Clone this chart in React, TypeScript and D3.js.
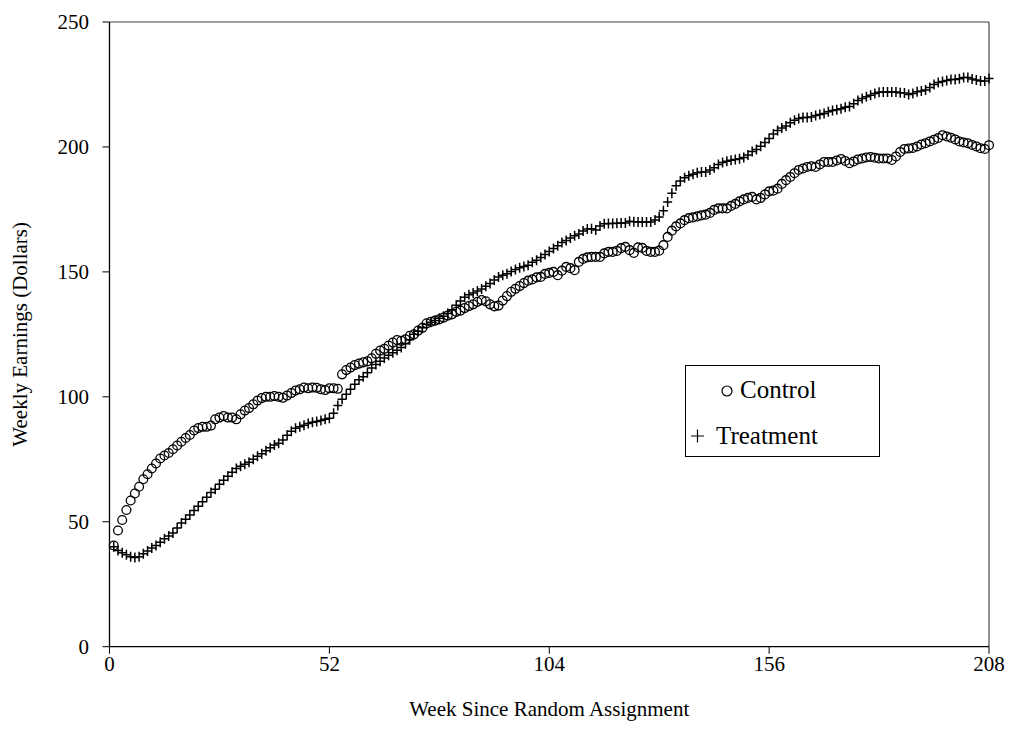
import React from 'react';
import * as d3 from 'd3';

// weekly mean earnings, weeks 1..208
const control = [
  40.5, 46.5, 50.7, 54.7, 58.5, 61.3, 64, 67, 69, 71.3,
  73.3, 75.3, 76.5, 77.5, 79, 80.5, 82, 83.5, 84.7, 86.5,
  87.5, 88, 88, 88.5, 91, 91.7, 92.3, 91.7, 91.7, 91,
  93, 94.5, 95.5, 97, 98.5, 99.5, 100, 100, 100.3, 100,
  99.6, 100.5, 101.5, 102.5, 103, 103.7, 103.4, 103.7, 103.6, 103,
  102.7, 103.4, 103.4, 103.2, 109, 110.7, 111.7, 112.7, 113.3, 113.8,
  114.2, 115.4, 117.2, 118.5, 119.2, 120.5, 121.7, 122.7, 122.4, 123,
  124.4, 125, 126.5, 127.6, 129.4, 130, 130.5, 131, 131.7, 132.5,
  133, 134, 134.5, 135.5, 136.3, 137, 138, 138.7, 138.2, 137,
  136.2, 136.5, 138.5, 140.3, 142, 143.2, 144.3, 145.5, 146.5, 147,
  147.8, 148, 149.2, 149.6, 150, 148.7, 150.5, 152, 151.5, 150.7,
  154, 155.2, 155.8, 156, 156, 156, 157.4, 158, 158, 158.4,
  159.5, 160, 158.7, 157.6, 159.8, 159.6, 158.4, 158, 158, 158.5,
  160.7, 164, 166.5, 168.2, 169.4, 170.7, 171.5, 171.8, 172.2, 172.6,
  172.9, 173.6, 174.8, 175.4, 175.4, 175.4, 176.4, 177.2, 178.2, 179,
  179.6, 180, 179, 179.6, 181, 182.2, 182.5, 183.3, 185.2, 186.7,
  188, 189.5, 190.8, 191.4, 192, 192.3, 192, 193, 194, 194,
  194, 194.6, 195.2, 194.4, 193.5, 194.2, 195, 195.4, 195.8, 196,
  195.7, 195.4, 195.4, 195.4, 194.8, 196.2, 198, 199.2, 199.4, 199.6,
  200.2, 201, 201.5, 202.2, 202.9, 203.6, 204.7, 204.2, 203.7, 203,
  202.2, 201.8, 201.5, 200.8, 200.2, 199.5, 199.2, 200.7,
];

const treatment = [
  40, 38.5, 37.6, 36.8, 36, 35.7, 36, 37.2, 38.3, 39.5,
  40.5, 41.8, 43.2, 44.3, 45.5, 47.5, 49.5, 51, 52.7, 54.5,
  56.2, 58, 59.8, 61.7, 63, 65, 66.6, 68.2, 69.8, 71.3,
  72.2, 73, 73.8, 75, 76.2, 77.2, 78.4, 79.6, 80.7, 81.4,
  82.7, 84.6, 86.2, 87.4, 88, 88.6, 89.3, 89.8, 90.1, 90.5,
  91, 91.4, 93.4, 96.5, 99, 101, 103, 105, 106.8, 108,
  109.6, 111.5, 112.9, 114.2, 115.5, 116.6, 117.6, 118.6, 119.7, 121.2,
  122.8, 125, 126.2, 127.6, 129, 129.8, 130.5, 131.4, 132.2, 133.3,
  134.8, 136.6, 138.3, 139.8, 140.8, 141.5, 142.3, 143.1, 144.2, 145.3,
  146.8, 148, 148.7, 149.3, 150.2, 151, 151.7, 152.2, 152.7, 153.9,
  154.7, 155.8, 157, 158.2, 159.4, 160.5, 161.8, 162.6, 163.6, 164.5,
  165.2, 166.4, 167.2, 167.3, 166.8, 168.4, 169.3, 169.4, 169.4, 169.5,
  169.6, 169.6, 170.3, 170.1, 170, 170, 170, 170, 170.8, 172,
  174.5, 178, 181.5, 184.5, 186.4, 187.7, 188.5, 189.1, 189.7, 190,
  190, 190.8, 191.7, 193, 193.8, 194.3, 194.7, 195, 195.3, 195.8,
  196.8, 198.2, 199, 200.3, 201.8, 203.4, 205.2, 206.6, 207.6, 208.4,
  209.7, 210.7, 211.4, 211.8, 211.8, 212, 212.6, 213, 213.4, 214.1,
  214.6, 214.9, 215.3, 215.9, 216.2, 217.3, 218.6, 219.4, 220.1, 220.7,
  221.4, 221.9, 222, 222, 222, 222, 221.7, 221.6, 221, 221.4,
  222.1, 222.4, 222.8, 223.8, 225, 225.8, 226.2, 226.6, 227, 227,
  227.3, 227.8, 227.8, 227.2, 226.8, 226.4, 226.4, 227.4,
];

const xTicks = [0, 52, 104, 156, 208];
const yTicks = [0, 50, 100, 150, 200, 250];

const W = 1013;
const H = 751;
const left = 109.5;
const right = 989;
const top = 22;
const bottom = 646.7;
const font = '"Liberation Serif", "Times New Roman", serif';

export default function App() {
  const x = d3.scaleLinear().domain([0, 208]).range([left, right]);
  const y = d3.scaleLinear().domain([0, 250]).range([bottom, top]);

  const ctrl = control.map((v, i) => ({ week: i + 1, v }));
  const trt = treatment.map((v, i) => ({ week: i + 1, v }));

  return (
    <svg
      width={W}
      height={H}
      style={{ position: 'absolute', left: 0, top: 0, background: '#fff' }}
      fontFamily={font}
    >
      {/* plot border */}
      <line x1={left} x2={right} y1={top} y2={top} stroke="#808080" strokeWidth={1.3} />
      <line x1={right} x2={right} y1={top} y2={bottom} stroke="#222" strokeWidth={1} />

      {/* y axis */}
      <line x1={left} x2={left} y1={top} y2={bottom} stroke="#000" strokeWidth={1.3} />
      {yTicks.map(t => (
        <g key={t}>
          <line x1={left - 7} x2={left} y1={y(t)} y2={y(t)} stroke="#000" strokeWidth={1} />
          <text x={89} y={y(t)} dy="0.35em" textAnchor="end" fontSize={21}>{t}</text>
        </g>
      ))}

      {/* x axis */}
      <line x1={left} x2={right} y1={bottom} y2={bottom} stroke="#000" strokeWidth={1.3} />
      {xTicks.map(t => (
        <g key={t}>
          <line x1={x(t)} x2={x(t)} y1={bottom} y2={bottom + 7} stroke="#000" strokeWidth={1} />
          <text x={x(t)} y={671} textAnchor="middle" fontSize={21}>{t}</text>
        </g>
      ))}

      <text x={(left + right) / 2} y={716} textAnchor="middle" fontSize={21}>
        Week Since Random Assignment
      </text>
      <text
        transform={`translate(27,${(top + bottom) / 2}) rotate(-90)`}
        textAnchor="middle"
        fontSize={21}
      >
        Weekly Earnings (Dollars)
      </text>

      {/* series */}
      <g fill="none" stroke="#000" strokeWidth={1.3}>
        {ctrl.map(d => (
          <circle key={d.week} cx={x(d.week)} cy={y(d.v)} r={4.4} />
        ))}
      </g>
      <g fill="none" stroke="#000" strokeWidth={1.5}>
        {trt.map(d => (
          <path
            key={d.week}
            d={`M${x(d.week) - 4.5},${y(d.v)}H${x(d.week) + 4.5}M${x(d.week)},${y(d.v) - 5}V${y(d.v) + 5}`}
          />
        ))}
      </g>

      {/* legend */}
      <rect x={685.5} y={365.5} width={194} height={91} fill="#fff" stroke="#000" strokeWidth={1} />
      <circle cx={727} cy={391} r={5} fill="none" stroke="#000" strokeWidth={1.2} />
      <text x={740} y={398} fontSize={25}>Control</text>
      <path d="M691,436H704M697.5,429.5V442.5" stroke="#000" strokeWidth={1.2} fill="none" />
      <text x={716} y={444} fontSize={25}>Treatment</text>
    </svg>
  );
}
